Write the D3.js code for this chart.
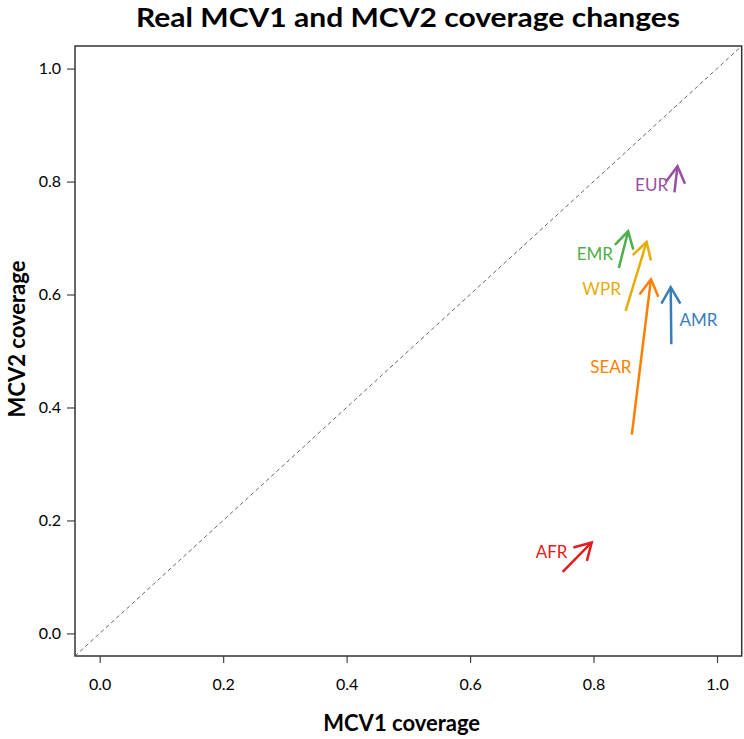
<!DOCTYPE html>
<html>
<head>
<meta charset="utf-8">
<script src="https://cdn.jsdelivr.net/npm/d3@7"></script>
<style>
  html, body { margin: 0; padding: 0; background: #fff; }
  svg { display: block; }
  text { font-family: Lato, "Open Sans", sans-serif; }
</style>
</head>
<body>
<svg id="chart" width="744" height="739"></svg>
<script>
// ---- data ----
const regions   = ["EUR", "EMR", "WPR", "SEAR", "AMR", "AFR"];
const mcv1From  = [0.931, 0.841, 0.852, 0.862, 0.926, 0.750];
const mcv2From  = [0.781, 0.647, 0.571, 0.352, 0.512, 0.109];
const mcv1To    = [0.936, 0.856, 0.886, 0.893, 0.925, 0.797];
const mcv2To    = [0.827, 0.712, 0.693, 0.627, 0.613, 0.161];
const labelX    = [0.894, 0.802, 0.813, 0.828, 0.970, 0.732];
const labelY    = [0.795, 0.672, 0.610, 0.472, 0.556, 0.145];
const colors    = ["#984EA3", "#4DAF4A", "#E8AC08", "#FF7F00", "#377EB8", "#E41A1C"];
const xTicks    = [0.0, 0.2, 0.4, 0.6, 0.8, 1.0];
const yTicks    = [0.0, 0.2, 0.4, 0.6, 0.8, 1.0];
const domain    = [-0.04, 1.04];
const titleText = "Real MCV1 and MCV2 coverage changes";
const xLabel    = "MCV1 coverage";
const yLabel    = "MCV2 coverage";

// ---- layout ----
const L = 75, R = 741.7, T = 46, B = 656;
const svg = d3.select("#chart");
const x = d3.scaleLinear().domain(domain).range([L, R]);
const y = d3.scaleLinear().domain(domain).range([B, T]);

// diagonal
svg.append("line")
  .attr("x1", x(domain[0])).attr("y1", y(domain[0]))
  .attr("x2", x(domain[1])).attr("y2", y(domain[1]))
  .attr("stroke", "#555").attr("stroke-width", 0.9)
  .attr("stroke-dasharray", "4,3");

// axes
const fmt = d3.format(".1f");
const xAxis = d3.axisBottom(x).tickValues(xTicks).tickFormat(fmt).tickSize(7).tickPadding(16);
const yAxis = d3.axisLeft(y).tickValues(yTicks).tickFormat(fmt).tickSize(8).tickPadding(6);
const gx = svg.append("g").attr("transform", `translate(0,${B})`).call(xAxis);
const gy = svg.append("g").attr("transform", `translate(${L},0)`).call(yAxis);
[gx, gy].forEach(g => {
  g.select(".domain").remove();
  g.selectAll(".tick line").attr("stroke", "#444").attr("stroke-width", 1.2);
  g.selectAll(".tick text").attr("fill", "#000").style("font-size", "16px")
    .style("font-family", "Lato, sans-serif");
});

// box
svg.append("rect")
  .attr("x", L).attr("y", T).attr("width", R - L).attr("height", B - T)
  .attr("fill", "none").attr("stroke", "#333").attr("stroke-width", 1.5);

// arrows
const headLen = 19, headAng = Math.PI / 6;
regions.forEach((r, i) => {
  const x0 = x(mcv1From[i]), y0 = y(mcv2From[i]);
  const x1 = x(mcv1To[i]),   y1 = y(mcv2To[i]);
  const a = Math.atan2(y1 - y0, x1 - x0);
  const g = svg.append("g").attr("stroke", colors[i]).attr("stroke-width", 2.5)
    .attr("fill", "none").attr("stroke-linecap", "butt");
  g.append("line").attr("x1", x0).attr("y1", y0).attr("x2", x1).attr("y2", y1);
  const p1 = [x1 - headLen * Math.cos(a - headAng), y1 - headLen * Math.sin(a - headAng)];
  const p2 = [x1 - headLen * Math.cos(a + headAng), y1 - headLen * Math.sin(a + headAng)];
  g.append("path").attr("d", `M${p1[0]},${p1[1]}L${x1},${y1}L${p2[0]},${p2[1]}`)
    .attr("stroke-linejoin", "miter");
  svg.append("text")
    .attr("x", x(labelX[i])).attr("y", y(labelY[i]))
    .attr("text-anchor", "middle").attr("dominant-baseline", "central")
    .attr("fill", colors[i]).style("font-size", "17px")
    .text(r);
});

// title and axis labels
svg.append("text").attr("x", 136).attr("y", 27)
  .attr("textLength", 544).attr("lengthAdjust", "spacingAndGlyphs")
  .style("font-size", "27px").style("font-weight", "bold")
  .text(titleText);
svg.append("text").attr("x", 401.7).attr("y", 731)
  .attr("text-anchor", "middle").style("font-size", "22px").style("font-weight", "bold")
  .text(xLabel);
svg.append("text").attr("transform", "translate(25,339) rotate(-90)")
  .attr("text-anchor", "middle").style("font-size", "22px").style("font-weight", "bold")
  .text(yLabel);
</script>
</body>
</html>
